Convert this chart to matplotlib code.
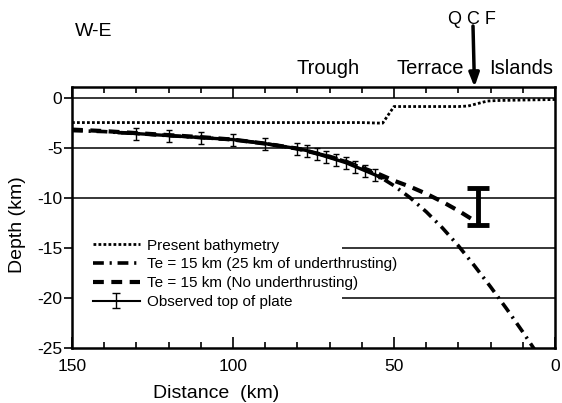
import matplotlib
matplotlib.use("Agg")
import matplotlib.pyplot as plt
from matplotlib.lines import Line2D
from matplotlib.container import ErrorbarContainer
from matplotlib.collections import LineCollection

plt.rcParams['font.family'] = ['Liberation Sans', 'DejaVu Sans']
plt.rcParams['axes.unicode_minus'] = False

# Present bathymetry
bathy_x = [150, 140, 130, 120, 110, 100, 90, 80, 70, 60, 55, 53.5, 51.5, 50, 45, 40, 35, 30, 27, 24, 21, 18, 10, 0]
bathy_y = [-2.5, -2.5, -2.5, -2.5, -2.5, -2.5, -2.5, -2.5, -2.5, -2.5, -2.55, -2.55, -1.6, -0.9, -0.9, -0.9, -0.9, -0.9, -0.85, -0.6, -0.35, -0.3, -0.25, -0.2]

# Te = 15 km (25 km of underthrusting)
dd_x = [150, 140, 130, 120, 110, 100, 90, 80, 70, 65, 60, 55, 50, 45, 40, 35, 30, 25, 20, 15, 10, 5]
dd_y = [-3.3, -3.4, -3.6, -3.8, -4.0, -4.2, -4.6, -5.1, -5.9, -6.4, -7.0, -7.8, -8.8, -10.0, -11.4, -13.0, -14.8, -16.8, -18.9, -21.1, -23.4, -25.8]

# Te = 15 km (No underthrusting)
da_x = [150, 140, 130, 120, 110, 100, 90, 80, 70, 65, 60, 55, 50, 45, 40, 35, 30, 25, 23.5]
da_y = [-3.2, -3.35, -3.55, -3.75, -3.95, -4.2, -4.6, -5.1, -5.9, -6.4, -7.0, -7.6, -8.3, -8.9, -9.6, -10.4, -11.3, -12.3, -12.6]

# Observed top of plate
obs_x = [135, 130, 120, 110, 100, 90, 80, 77, 74, 71, 68, 65, 62, 59, 56, 54]
obs_y = [-3.5, -3.6, -3.8, -4.0, -4.2, -4.6, -5.1, -5.3, -5.6, -5.9, -6.2, -6.5, -6.9, -7.3, -7.7, -8.0]
obs_err = [0.0, 0.6, 0.6, 0.6, 0.6, 0.6, 0.6, 0.6, 0.6, 0.6, 0.6, 0.6, 0.6, 0.6, 0.6, 0.0]

# Observed top of plate near QCF
qcf_x = [24]
qcf_y = [-10.85]
qcf_err = [1.85]

grid_full = [0, -5, -10]
grid_part = [-15, -20]

fig = plt.figure(figsize=(5.62, 4.03), dpi=100)
ax = fig.add_axes([72/562, 1-348/403, 483/562, 261/403])

for g in grid_full:
    ax.axhline(g, color='black', lw=1.1, zorder=1)
for g in grid_part:
    ax.hlines(g, 66, 0, color='black', lw=1.1, zorder=1)

ax.plot(bathy_x, bathy_y, color='black', lw=2.0, ls=(0, (1, 0.8)), zorder=3)
ax.plot(dd_x, dd_y, color='black', lw=2.6, ls=(0, (3.0, 1.6, 0.6, 1.6)), zorder=3)
ax.plot(da_x, da_y, color='black', lw=3.0, ls=(0, (2.6, 1.8)), zorder=3)
ax.errorbar(obs_x, obs_y, yerr=obs_err, color='black', lw=2.4, elinewidth=1.0,
            capsize=2.2, capthick=1.0, zorder=4)
ax.errorbar(qcf_x, qcf_y, yerr=qcf_err, color='black', fmt='none', elinewidth=3.5,
            capsize=8, capthick=3.5, zorder=4)

ax.set_xlim(150, 0)
ax.set_ylim(-25, 1.05)
ax.set_xticks([150, 100, 50, 0])
ax.set_xticks(range(0, 151, 10), minor=True)
ax.set_yticks([0, -5, -10, -15, -20, -25])
ax.tick_params(axis='x', which='major', direction='in', top=True, length=8, width=1.2,
               labelsize=12.5, pad=8)
ax.tick_params(axis='x', which='minor', direction='in', top=True, length=4, width=1.2)
ax.tick_params(axis='y', which='major', direction='out', length=6, width=1.2,
               labelsize=12.5, pad=1)
for s in ax.spines.values():
    s.set_linewidth(1.8)

fig.text(216/562, 1-393/403, 'Distance  (km)', ha='center', va='center', fontsize=14)
fig.text(18/562, 1-225/403, 'Depth (km)', ha='center', va='center', fontsize=14, rotation=90)

fig.text(94/562, 1-32/403, 'W-E', ha='center', va='center', fontsize=14)
fig.text(328/562, 1-68/403, 'Trough', ha='center', va='center', fontsize=14.5)
fig.text(430/562, 1-68/403, 'Terrace', ha='center', va='center', fontsize=14.5)
fig.text(521/562, 1-68/403, 'Islands', ha='center', va='center', fontsize=14.5)
fig.text(472/562, 1-20/403, 'Q C F', ha='center', va='center', fontsize=13)
ax.annotate('', xy=(25, 1.05), xycoords='data', xytext=(473/562, 1-26/403),
            textcoords='figure fraction',
            arrowprops=dict(arrowstyle='-|>,head_length=0.8,head_width=0.3', color='black',
                            lw=2.5, shrinkA=0, shrinkB=0), annotation_clip=False)

h1 = Line2D([], [], color='black', lw=2.0, ls=(0, (1, 0.8)))
h2 = Line2D([], [], color='black', lw=2.6, ls=(0, (3.0, 1.6, 0.6, 1.6)))
h3 = Line2D([], [], color='black', lw=3.0, ls=(0, (2.6, 1.8)))
hl = Line2D([], [], color='black', lw=1.5)
hc = Line2D([], [], color='black', lw=1.0, marker='_', markersize=6)
hb = LineCollection([], colors='black', linewidths=1.0)
h4 = ErrorbarContainer((hl, (hc,), (hb,)), has_yerr=True)
leg = ax.legend([h1, h2, h3, h4],
                ['Present bathymetry', 'Te = 15 km (25 km of underthrusting)',
                 'Te = 15 km (No underthrusting)', 'Observed top of plate'],
                loc='upper left', bbox_to_anchor=(0.043, 0.419), frameon=False,
                fontsize=11, handlelength=3.1, handletextpad=0.45, labelspacing=0.31,
                borderpad=0, borderaxespad=0)

fig.savefig('out.png', dpi=100)
